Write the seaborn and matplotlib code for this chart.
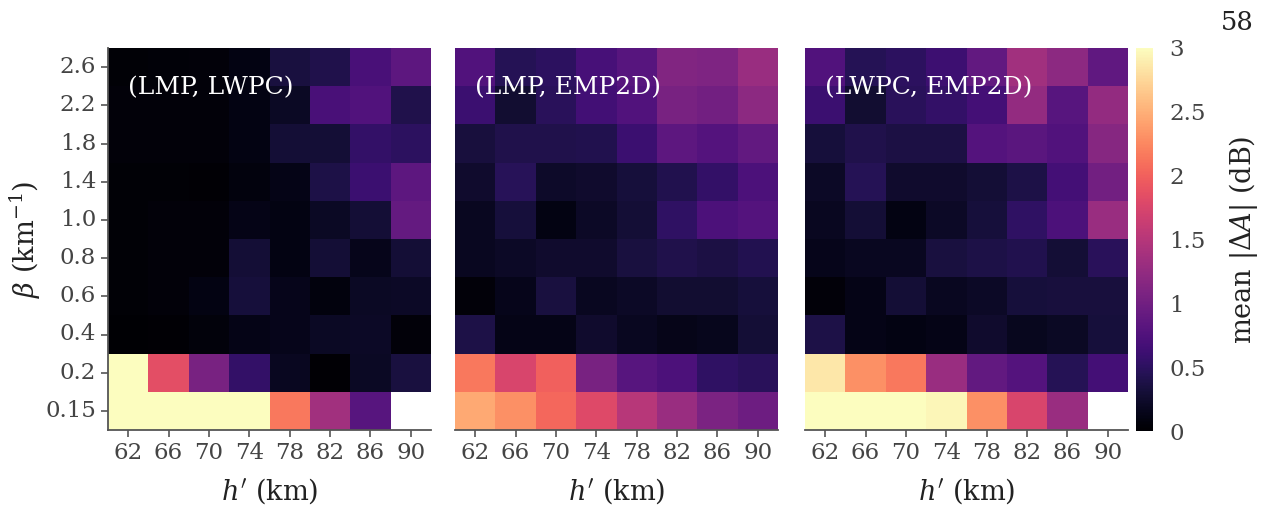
import numpy as np
import pandas as pd
import seaborn as sns
import matplotlib.pyplot as plt

h_prime = [62, 66, 70, 74, 78, 82, 86, 90]
beta = ["2.6", "2.2", "1.8", "1.4", "1.0", "0.8", "0.6", "0.4", "0.2", "0.15"]

lmp_lwpc = [
    [0.03, 0.04, 0.05, 0.10, 0.35, 0.40, 0.70, 0.85],
    [0.05, 0.05, 0.05, 0.10, 0.20, 0.70, 0.75, 0.40],
    [0.05, 0.05, 0.05, 0.10, 0.30, 0.30, 0.55, 0.50],
    [0.03, 0.03, 0.02, 0.08, 0.12, 0.38, 0.60, 0.85],
    [0.03, 0.05, 0.05, 0.12, 0.10, 0.20, 0.30, 0.90],
    [0.03, 0.05, 0.05, 0.30, 0.10, 0.30, 0.15, 0.30],
    [0.03, 0.05, 0.10, 0.32, 0.15, 0.08, 0.20, 0.22],
    [0.00, 0.02, 0.07, 0.12, 0.15, 0.20, 0.22, 0.05],
    [3.00, 1.85, 1.05, 0.55, 0.18, 0.02, 0.20, 0.35],
    [3.00, 3.00, 3.00, 3.00, 2.15, 1.35, 0.80, np.nan],
]

lmp_emp2d = [
    [0.75, 0.45, 0.50, 0.68, 0.80, 1.12, 1.10, 1.30],
    [0.60, 0.28, 0.48, 0.65, 0.75, 1.05, 1.00, 1.20],
    [0.33, 0.40, 0.40, 0.42, 0.60, 0.85, 0.78, 0.88],
    [0.25, 0.46, 0.23, 0.25, 0.32, 0.42, 0.55, 0.72],
    [0.18, 0.32, 0.10, 0.22, 0.30, 0.52, 0.72, 0.78],
    [0.18, 0.22, 0.25, 0.25, 0.35, 0.40, 0.37, 0.43],
    [0.05, 0.15, 0.35, 0.18, 0.22, 0.27, 0.28, 0.32],
    [0.38, 0.12, 0.12, 0.25, 0.18, 0.13, 0.16, 0.30],
    [2.15, 1.75, 2.00, 1.05, 0.80, 0.72, 0.52, 0.47],
    [2.45, 2.30, 2.05, 1.80, 1.50, 1.30, 1.07, 0.97],
]

lwpc_emp2d = [
    [0.75, 0.45, 0.50, 0.62, 0.88, 1.35, 1.20, 0.87],
    [0.60, 0.28, 0.48, 0.55, 0.66, 1.25, 0.80, 1.25],
    [0.32, 0.40, 0.37, 0.37, 0.78, 0.83, 0.75, 1.15],
    [0.22, 0.45, 0.25, 0.25, 0.30, 0.38, 0.66, 1.00],
    [0.18, 0.30, 0.10, 0.22, 0.32, 0.52, 0.72, 1.30],
    [0.15, 0.18, 0.18, 0.35, 0.38, 0.42, 0.30, 0.47],
    [0.05, 0.12, 0.30, 0.18, 0.22, 0.32, 0.33, 0.33],
    [0.38, 0.12, 0.10, 0.12, 0.25, 0.17, 0.20, 0.32],
    [2.85, 2.30, 2.15, 1.30, 0.88, 0.78, 0.45, 0.66],
    [3.00, 3.00, 3.00, 2.95, 2.30, 1.75, 1.30, np.nan],
]

titles = ["(LMP, LWPC)", "(LMP, EMP2D)", "(LWPC, EMP2D)"]
cbar_ticks = [0, 0.5, 1, 1.5, 2, 2.5, 3]
cbar_ticklabels = ["0", "0.5", "1", "1.5", "2", "2.5", "3"]

sns.set_theme(style="ticks")
plt.rcParams['font.family'] = ['DejaVu Serif']
plt.rcParams['mathtext.fontset'] = 'dejavuserif'

W, H = 1265, 512
fig = plt.figure(figsize=(W / 100, H / 100), dpi=100)

def rect(x0, x1, y0, y1):
    return [x0 / W, 1 - y1 / H, (x1 - x0) / W, (y1 - y0) / H]

ax_lefts = [108, 455, 805]
axes = [fig.add_axes(rect(x, x + 323, 48, 430)) for x in ax_lefts]
cax = fig.add_axes(rect(1136, 1153, 48, 431))

grey = "#555555"
TICK = 16.5
LAB = 19.5
for i, (ax, data, title) in enumerate(zip(axes, [lmp_lwpc, lmp_emp2d, lwpc_emp2d], titles)):
    df = pd.DataFrame(data, index=beta, columns=h_prime)
    sns.heatmap(df, ax=ax, cmap="magma", vmin=0, vmax=3,
                cbar=(i == 2), cbar_ax=cax if i == 2 else None,
                xticklabels=h_prime, yticklabels=beta if i == 0 else False)
    ax.spines['bottom'].set_visible(True)
    ax.spines['bottom'].set_color(grey)
    ax.spines['bottom'].set_linewidth(1.3)
    if i == 0:
        ax.spines['left'].set_visible(True)
        ax.spines['left'].set_color(grey)
        ax.spines['left'].set_linewidth(1.3)
        ax.set_ylabel(r"$\beta$ (km$^{-1}$)", fontsize=LAB, color="#222222", labelpad=2)
        ax.tick_params(axis='y', length=5, width=1.2, color=grey, labelsize=TICK,
                       labelcolor="#444444", rotation=0)
    else:
        ax.set_ylabel("")
        ax.tick_params(axis='y', left=False)
    ax.tick_params(axis='x', length=5, width=1.2, color=grey, labelsize=TICK,
                   labelcolor="#444444", rotation=0)
    ax.set_xlabel(r"$h'$ (km)", fontsize=LAB, color="#222222", labelpad=9)
    ax.text(0.062, 0.895, title, transform=ax.transAxes, color="white",
            fontsize=18, va="center", ha="left")

cbar = axes[2].collections[0].colorbar
cbar.outline.set_visible(False)
cbar.set_ticks(cbar_ticks)
cbar.set_ticklabels(cbar_ticklabels)
cax.tick_params(length=0, labelsize=TICK, labelcolor="#444444", pad=12)
cax.set_ylabel(r"mean $|\Delta A|$ (dB)", fontsize=LAB, color="#222222", labelpad=15)

fig.text(1237 / W, 1 - 22 / H, "58", fontsize=18.5, ha="center", va="center", color="#222222")

fig.savefig("out.png", dpi=100)
